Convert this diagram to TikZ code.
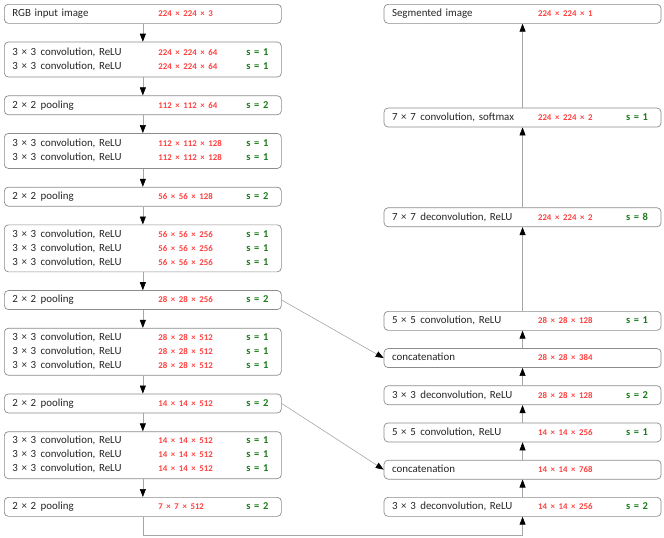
\documentclass[tikz,border=0pt]{standalone}
\usepackage{fontspec}
\setmainfont{Carlito}
\usetikzlibrary{positioning,arrows.meta}
\definecolor{sizered}{HTML}{FF4040}
\definecolor{stridegreen}{HTML}{1E7B1E}
\definecolor{boxgray}{HTML}{8C8C8C}
\definecolor{linegray}{HTML}{A6A6A6}
\newcommand{\sizefont}{\fontsize{8.8}{14}\selectfont\bfseries\color{sizered}}
\newcommand{\stridefont}{\fontsize{10.5}{14}\selectfont\bfseries\color{stridegreen}}
\newcommand{\layerrow}[3]{\strut\makebox[146pt][l]{#1}\makebox[88pt][l]{\sizefont #2}{\stridefont #3}}
\newcommand{\ksize}[1]{#1\hspace{4.5pt}}

\begin{document}
\begin{tikzpicture}[
  layer/.style={draw=boxgray, line width=0.7pt, rounded corners=4pt, fill=white,
    text width=261pt, inner xsep=8pt, inner ysep=2.5pt, align=left,
    font=\fontsize{10.9}{14}\selectfont, text=black!85},
  tworow/.style={layer, minimum height=35pt},
  threerow/.style={layer, inner ysep=2.5pt},
  conn/.style={draw=linegray, line width=0.6pt, -{Triangle[black,width=6pt,length=8pt]}},
  node distance=18pt
]
  \useasboundingbox (0,0) rectangle (664pt,-538pt);
  % encoder
  \node[layer, anchor=north west] (inp) at (4pt,-4pt) {\layerrow{RGB input image}{224 × 224 × 3}{}};
  \node[tworow, below=of inp] (c1) {%
    \layerrow{\ksize{3 × 3}convolution, ReLU}{224 × 224 × 64}{s = 1}\\
    \layerrow{\ksize{3 × 3}convolution, ReLU}{224 × 224 × 64}{s = 1}};
  \node[layer, below=of c1] (p1) {\layerrow{\ksize{2 × 2}pooling}{112 × 112 × 64}{s = 2}};
  \node[tworow, below=of p1] (c2) {%
    \layerrow{\ksize{3 × 3}convolution, ReLU}{112 × 112 × 128}{s = 1}\\
    \layerrow{\ksize{3 × 3}convolution, ReLU}{112 × 112 × 128}{s = 1}};
  \node[layer, below=of c2] (p2) {\layerrow{\ksize{2 × 2}pooling}{56 × 56 × 128}{s = 2}};
  \node[threerow, below=of p2] (c3) {%
    \layerrow{\ksize{3 × 3}convolution, ReLU}{56 × 56 × 256}{s = 1}\\
    \layerrow{\ksize{3 × 3}convolution, ReLU}{56 × 56 × 256}{s = 1}\\
    \layerrow{\ksize{3 × 3}convolution, ReLU}{56 × 56 × 256}{s = 1}};
  \node[layer, below=of c3] (p3) {\layerrow{\ksize{2 × 2}pooling}{28 × 28 × 256}{s = 2}};
  \node[threerow, below=of p3] (c4) {%
    \layerrow{\ksize{3 × 3}convolution, ReLU}{28 × 28 × 512}{s = 1}\\
    \layerrow{\ksize{3 × 3}convolution, ReLU}{28 × 28 × 512}{s = 1}\\
    \layerrow{\ksize{3 × 3}convolution, ReLU}{28 × 28 × 512}{s = 1}};
  \node[layer, below=of c4] (p4) {\layerrow{\ksize{2 × 2}pooling}{14 × 14 × 512}{s = 2}};
  \node[threerow, below=of p4] (c5) {%
    \layerrow{\ksize{3 × 3}convolution, ReLU}{14 × 14 × 512}{s = 1}\\
    \layerrow{\ksize{3 × 3}convolution, ReLU}{14 × 14 × 512}{s = 1}\\
    \layerrow{\ksize{3 × 3}convolution, ReLU}{14 × 14 × 512}{s = 1}};
  \node[layer, below=of c5] (p5) {\layerrow{\ksize{2 × 2}pooling}{7 × 7 × 512}{s = 2}};
  % decoder
  \node[layer, right=102pt of p5] (d5) {\layerrow{\ksize{3 × 3}deconvolution, ReLU}{14 × 14 × 256}{s = 2}};
  \node[layer, above=17.5pt of d5] (cat4) {\layerrow{concatenation}{14 × 14 × 768}{}};
  \node[layer, above=17.5pt of cat4] (u4) {\layerrow{\ksize{5 × 5}convolution, ReLU}{14 × 14 × 256}{s = 1}};
  \node[layer, above=17.5pt of u4] (d4) {\layerrow{\ksize{3 × 3}deconvolution, ReLU}{28 × 28 × 128}{s = 2}};
  \node[layer, above=17.5pt of d4] (cat3) {\layerrow{concatenation}{28 × 28 × 384}{}};
  \node[layer, above=17.5pt of cat3] (u3) {\layerrow{\ksize{5 × 5}convolution, ReLU}{28 × 28 × 128}{s = 1}};
  \node[layer, right=102pt of inp] (out) {\layerrow{Segmented image}{224 × 224 × 1}{}};
  \node[layer, below=84pt of out] (sm) {\layerrow{\ksize{7 × 7}convolution, softmax}{224 × 224 × 2}{s = 1}};
  \node[layer, below=80pt of sm] (d1) {\layerrow{\ksize{7 × 7}deconvolution, ReLU}{224 × 224 × 2}{s = 8}};
  % connectors
  \foreach \a/\b in {inp/c1, c1/p1, p1/c2, c2/p2, p2/c3, c3/p3, p3/c4, c4/p4, p4/c5, c5/p5}
    \draw[conn] (\a.south) -- (\b.north);
  \foreach \a/\b in {d5/cat4, cat4/u4, u4/d4, d4/cat3, cat3/u3, u3/d1, d1/sm, sm/out}
    \draw[conn] (\a.north) -- (\b.south);
  \draw[conn] (p3.east) -- (cat3.west);
  \draw[conn] (p4.east) -- (cat4.west);
  \draw[conn] (p5.south) -- ++(0,-19pt) -| (d5.south);
\end{tikzpicture}
\end{document}
